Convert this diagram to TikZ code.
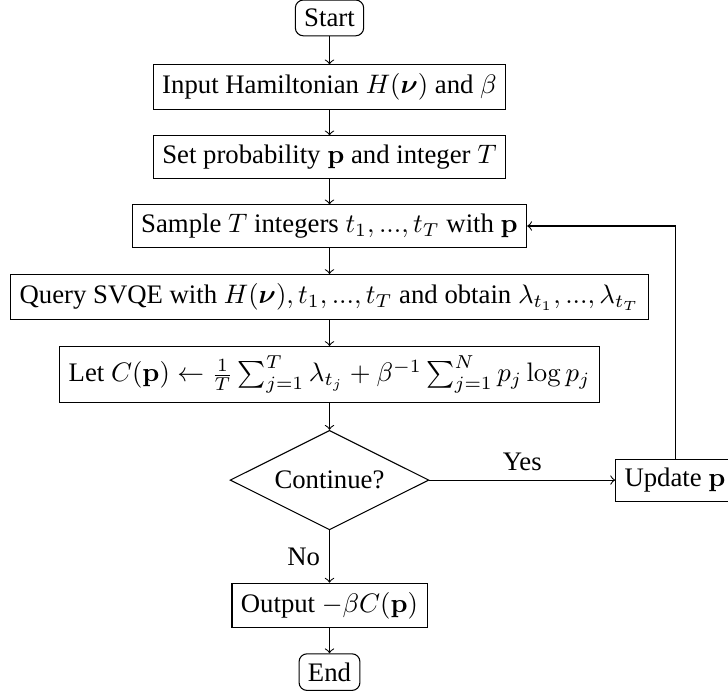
\documentclass[tikz,border=0pt]{standalone}
\usepackage{amsmath, amsfonts}
\usepackage[no-math]{fontspec}
\setmainfont{Liberation Serif}
\usepackage{tikz}
\usetikzlibrary{shapes.geometric}
\usetikzlibrary{arrows}

\tikzset{
    procbox/.style={draw, rectangle},
    termbox/.style={draw, rectangle, rounded corners=3pt},
    decbox/.style={draw, diamond, aspect=2, inner sep=1pt, minimum width=74.3pt, minimum height=37.2pt},
    flow/.style={->}
}

\begin{document}
\begin{tikzpicture}[x=1pt,y=1pt]
            \useasboundingbox (-123.2,-259.9) rectangle (149,0);

            % main column
            \node[termbox] (start) at (0,-6.7) {Start};
            \node[procbox] (input) at (0,-32.6) {Input Hamiltonian $H(\boldsymbol{\nu})$ and $\beta$};
            \node[procbox] (setp) at (0,-58.7) {Set probability $\mathbf{p}$ and integer $T$};
            \node[procbox] (sample) at (0,-84.5) {Sample $T$ integers $t_1,...,t_T$ with $\mathbf{p}$};
            \node[procbox] (query) at (0,-111) {Query SVQE with $H(\boldsymbol{\nu}),t_1,...,t_T$ and obtain $\lambda_{t_1},...,\lambda_{t_T}$};
            \node[procbox] (cost) at (0,-140) {Let $C(\mathbf{p})\leftarrow\frac{1}{T}\sum_{j=1}^{T}\lambda_{t_j}+\beta^{-1}\sum_{j=1}^{N}p_j\log p_j$};
            \node[decbox] (cont) at (0,-179.5) {Continue?};
            \node[procbox] (output) at (0,-226.4) {Output $-\beta C(\mathbf{p})$};
            \node[termbox] (stop) at (0,-251.3) {End};

            % loop
            \node[procbox] (update) at (129.2,-179.5) {Update $\mathbf{p}$};

            % arrows
            \draw[flow] (start) -- (input);
            \draw[flow] (input) -- (setp);
            \draw[flow] (setp) -- (sample);
            \draw[flow] (sample) -- (query);
            \draw[flow] (query) -- (cost);
            \draw[flow] (cost) -- (cont);
            \draw[flow] (cont) -- node[above]{Yes} (update);
            \draw[flow] (cont) -- node[left]{No} (output);
            \draw[flow] (output) -- (stop);
            \draw[flow] (update.north) |- (sample.east);
        \end{tikzpicture}
\end{document}
